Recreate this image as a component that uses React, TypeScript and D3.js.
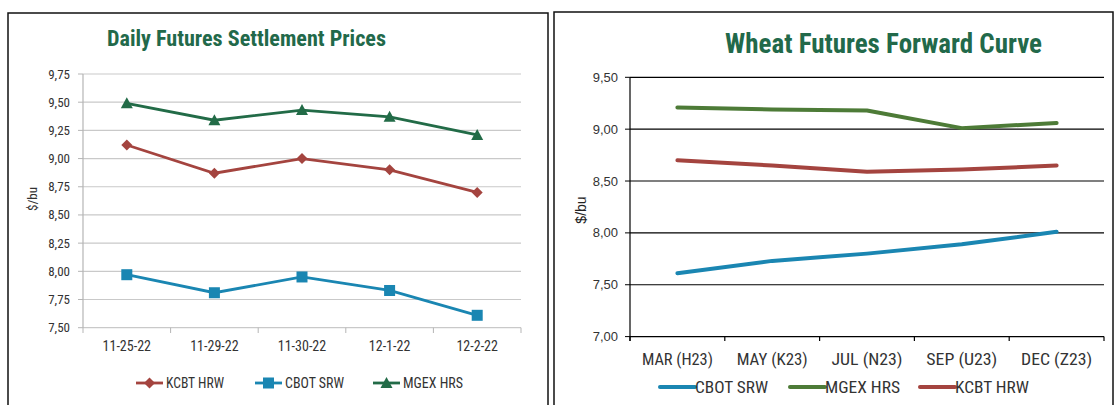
import * as d3 from "d3";

// daily settlement chart (left)
const dates = ["11-25-22", "11-29-22", "11-30-22", "12-1-22", "12-2-22"];
const kcbtDaily = [9.12, 8.87, 9.0, 8.9, 8.7];
const cbotDaily = [7.97, 7.81, 7.95, 7.83, 7.61];
const mgexDaily = [9.49, 9.34, 9.43, 9.37, 9.21];
const dailyTicks = [7.5, 7.75, 8.0, 8.25, 8.5, 8.75, 9.0, 9.25, 9.5, 9.75];

// forward curve chart (right)
const contracts = ["MAR (H23)", "MAY (K23)", "JUL (N23)", "SEP (U23)", "DEC (Z23)"];
const cbotCurve = [7.61, 7.73, 7.8, 7.89, 8.01];
const mgexCurve = [9.21, 9.19, 9.18, 9.01, 9.06];
const kcbtCurve = [8.7, 8.65, 8.59, 8.61, 8.65];
const curveTicks = [7.0, 7.5, 8.0, 8.5, 9.0, 9.5];

const titleGreen = "#22694a";
const red = "#a4443f";
const blue = "#1a86b2";
const darkGreen = "#226b47";
const oliveGreen = "#4d7b37";

const fmt = (v: number) => d3.format(".2f")(v).replace(".", ",");
const cond = "'Roboto Condensed', Roboto, sans-serif";

function DailyChart() {
  const x = d3.scaleBand().domain(dates).range([83, 521]);
  const y = d3.scaleLinear().domain([7.5, 9.75]).range([327.7, 74]);
  const line = d3
    .line<number>()
    .x((_, i) => x(dates[i])! + x.bandwidth() / 2)
    .y((d) => y(d));

  const diamond = (cx: number, cy: number) =>
    `M${cx},${cy - 5.5}L${cx + 5.5},${cy}L${cx},${cy + 5.5}L${cx - 5.5},${cy}Z`;
  const triangle = (cx: number, cy: number) =>
    `M${cx},${cy - 6}L${cx + 6},${cy + 5}L${cx - 6},${cy + 5}Z`;

  const series = [
    { name: "KCBT HRW", values: kcbtDaily, color: red, shape: "diamond" },
    { name: "CBOT SRW", values: cbotDaily, color: blue, shape: "square" },
    { name: "MGEX HRS", values: mgexDaily, color: darkGreen, shape: "triangle" },
  ];

  const marker = (shape: string, cx: number, cy: number, color: string, key?: any) => {
    if (shape === "square")
      return <rect key={key} x={cx - 5.5} y={cy - 5.5} width={11} height={11} fill={color} />;
    if (shape === "diamond") return <path key={key} d={diamond(cx, cy)} fill={color} />;
    return <path key={key} d={triangle(cx, cy)} fill={color} />;
  };

  const legendX = [136, 255, 373];
  const legendW = [58, 59, 60];

  return (
    <g>
      <rect x={8} y={13} width={540} height={420} fill="white" stroke="#111" strokeWidth={1.5} />
      <text
        x={246.5}
        y={46}
        textAnchor="middle"
        fontFamily={cond}
        fontWeight={700}
        fontSize={22}
        fill={titleGreen}
        textLength={279}
        lengthAdjust="spacingAndGlyphs"
      >
        Daily Futures Settlement Prices
      </text>
      {dailyTicks.map((t) => (
        <g key={t}>
          <line x1={83} x2={521} y1={y(t)} y2={y(t)} stroke="#c9c9c9" strokeWidth={1.2} />
          <line x1={78} x2={83} y1={y(t)} y2={y(t)} stroke="#b5b5b5" />
          <text x={70} y={y(t) + 4.5} textAnchor="end" fontFamily={cond} fontSize={13} fill="#333">
            {fmt(t)}
          </text>
        </g>
      ))}
      <line x1={83} x2={83} y1={74} y2={327.7} stroke="#b5b5b5" strokeWidth={1.2} />
      {[...dates.map((d) => x(d)!), 521].map((tx, i) => (
        <line key={i} x1={tx} x2={tx} y1={327.7} y2={333} stroke="#b5b5b5" />
      ))}
      {dates.map((d) => (
        <text
          key={d}
          x={x(d)! + x.bandwidth() / 2}
          y={351}
          textAnchor="middle"
          fontFamily={cond}
          fontSize={14}
          fill="#333"
        >
          {d}
        </text>
      ))}
      <text
        transform={`translate(37,199) rotate(-90)`}
        textAnchor="middle"
        fontFamily={cond}
        fontSize={13}
        fill="#333"
      >
        $/bu
      </text>
      {series.map((s) => (
        <g key={s.name}>
          <path d={line(s.values)!} fill="none" stroke={s.color} strokeWidth={2.8} />
          {s.values.map((v, i) =>
            marker(s.shape, x(dates[i])! + x.bandwidth() / 2, y(v), s.color, i)
          )}
        </g>
      ))}
      {series.map((s, i) => (
        <g key={s.name} transform={`translate(${legendX[i]},383)`}>
          <line x1={0} x2={27} y1={0} y2={0} stroke={s.color} strokeWidth={2.8} />
          {marker(s.shape, 13.5, 0, s.color)}
          <text
            x={30}
            y={5}
            fontFamily={cond}
            fontSize={14}
            fill="#333"
            textLength={legendW[i]}
            lengthAdjust="spacingAndGlyphs"
          >
            {s.name}
          </text>
        </g>
      ))}
    </g>
  );
}

function CurveChart() {
  const x = d3.scaleBand().domain(contracts).range([630, 1104]);
  const y = d3.scaleLinear().domain([7.0, 9.5]).range([336.6, 77.3]);
  const line = d3
    .line<number>()
    .x((_, i) => x(contracts[i])! + x.bandwidth() / 2)
    .y((d) => y(d));

  const series = [
    { name: "CBOT SRW", values: cbotCurve, color: blue },
    { name: "MGEX HRS", values: mgexCurve, color: oliveGreen },
    { name: "KCBT HRW", values: kcbtCurve, color: red },
  ];
  const legendX = [660, 790, 920];
  const legendW = [73, 75, 74];

  return (
    <g>
      <rect x={554} y={12} width={559} height={420} fill="white" stroke="#111" strokeWidth={1.5} />
      <text
        x={883.5}
        y={53}
        textAnchor="middle"
        fontFamily={cond}
        fontWeight={700}
        fontSize={27}
        fill={titleGreen}
        textLength={317}
        lengthAdjust="spacingAndGlyphs"
      >
        Wheat Futures Forward Curve
      </text>
      {curveTicks.map((t) => (
        <g key={t}>
          <line x1={630} x2={1104} y1={y(t)} y2={y(t)} stroke="#000" strokeWidth={1.2} />
          <line x1={625} x2={630} y1={y(t)} y2={y(t)} stroke="#000" />
          <text
            x={618}
            y={y(t) + 4.5}
            textAnchor="end"
            fontFamily="'Liberation Sans', Arial, sans-serif"
            fontSize={13}
            fill="#333"
          >
            {fmt(t)}
          </text>
        </g>
      ))}
      <line x1={630} x2={630} y1={77.3} y2={341} stroke="#000" strokeWidth={1.2} />
      {[...contracts.map((c) => x(c)!), 1104].map((tx, i) => (
        <line key={i} x1={tx} x2={tx} y1={336.6} y2={341} stroke="#000" strokeWidth={1.2} />
      ))}
      {contracts.map((c) => (
        <text
          key={c}
          x={x(c)! + x.bandwidth() / 2}
          y={365}
          textAnchor="middle"
          fontFamily={cond}
          fontSize={16}
          fill="#333"
          textLength={71}
          lengthAdjust="spacingAndGlyphs"
        >
          {c}
        </text>
      ))}
      <text
        transform={`translate(586,210) rotate(-90)`}
        textAnchor="middle"
        fontFamily="'Liberation Sans', Arial, sans-serif"
        fontSize={14}
        fill="#222"
      >
        $/bu
      </text>
      {series.map((s) => (
        <path
          key={s.name}
          d={line(s.values)!}
          fill="none"
          stroke={s.color}
          strokeWidth={4}
          strokeLinecap="round"
          strokeLinejoin="round"
        />
      ))}
      {series.map((s, i) => (
        <g key={s.name} transform={`translate(${legendX[i]},387)`}>
          <line x1={0} x2={35} y1={0} y2={0} stroke={s.color} strokeWidth={4} strokeLinecap="round" />
          <text
            x={35}
            y={6}
            fontFamily={cond}
            fontSize={16}
            fill="#333"
            textLength={legendW[i]}
            lengthAdjust="spacingAndGlyphs"
          >
            {s.name}
          </text>
        </g>
      ))}
    </g>
  );
}

export default function App() {
  return (
    <svg
      width={1115}
      height={405}
      style={{ position: "absolute", left: 0, top: 0, background: "white" }}
    >
      <rect width={1115} height={405} fill="white" />
      <DailyChart />
      <CurveChart />
    </svg>
  );
}
